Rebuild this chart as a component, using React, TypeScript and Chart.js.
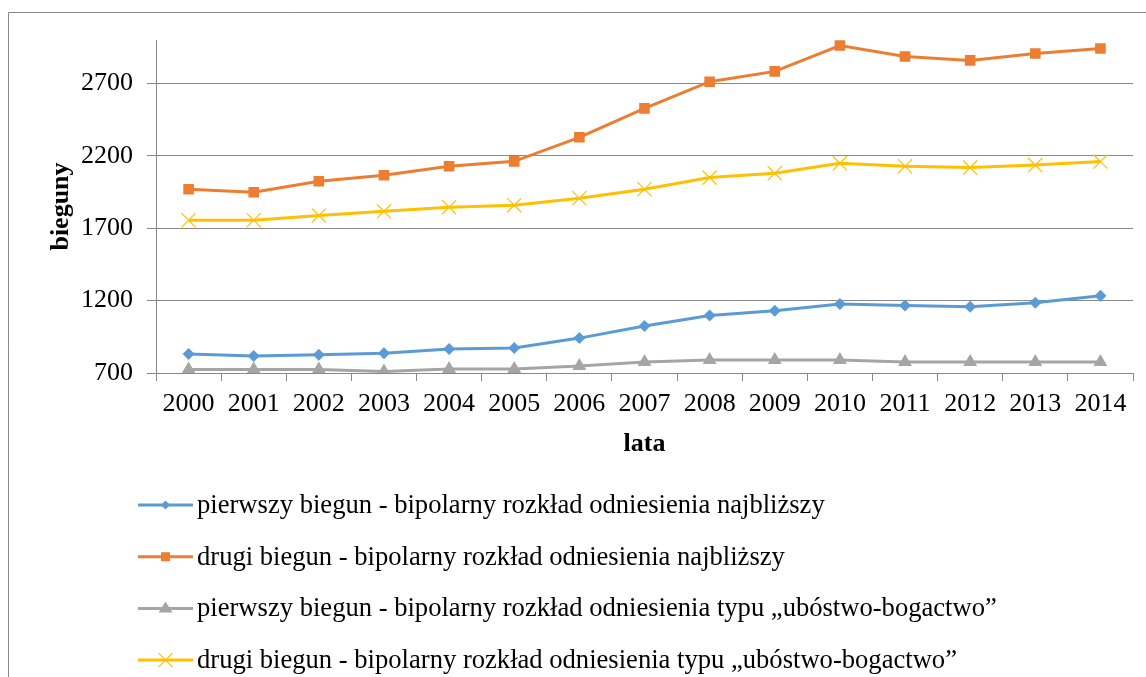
import React, { useEffect, useRef } from "react";
import { Chart, registerables } from "chart.js";

Chart.register(...registerables);

// Lata (oś X)
const years = ["2000", "2001", "2002", "2003", "2004", "2005", "2006", "2007", "2008", "2009", "2010", "2011", "2012", "2013", "2014"];

// Bieguny rozkładów
const firstNearest = [831, 817, 826, 836, 866, 872, 941, 1024, 1097, 1130, 1176, 1167, 1157, 1185, 1233];
const secondNearest = [1969, 1948, 2024, 2066, 2128, 2162, 2328, 2528, 2712, 2783, 2962, 2886, 2859, 2907, 2941];
const firstPoverty = [725, 725, 725, 711, 728, 728, 748, 776, 790, 790, 790, 776, 776, 776, 776];
const secondPoverty = [1755, 1755, 1788, 1817, 1845, 1859, 1907, 1969, 2050, 2079, 2148, 2128, 2119, 2136, 2160];

const yTicks = [700, 1200, 1700, 2200, 2700];

const seriesLabels = [
  "pierwszy biegun - bipolarny rozkład odniesienia najbliższy",
  "drugi biegun - bipolarny rozkład odniesienia najbliższy",
  "pierwszy biegun - bipolarny rozkład odniesienia typu \u201eubóstwo-bogactwo\u201d",
  "drugi biegun - bipolarny rozkład odniesienia typu \u201eubóstwo-bogactwo\u201d",
];

const COLORS = ["#5B9BD5", "#ED7D31", "#A5A5A5", "#FFC000"];
const SERIF = '"Liberation Serif", "Times New Roman", serif';
const AXIS_GRAY = "#898989";

function drawMarker(ctx: CanvasRenderingContext2D, kind: string, x: number, y: number, color: string) {
  ctx.save();
  ctx.fillStyle = color;
  ctx.strokeStyle = color;
  ctx.beginPath();
  if (kind === "diamond") {
    const r = 4.5;
    ctx.moveTo(x, y - r);
    ctx.lineTo(x + r, y);
    ctx.lineTo(x, y + r);
    ctx.lineTo(x - r, y);
    ctx.closePath();
    ctx.fill();
  } else if (kind === "square") {
    const s = 4.5;
    ctx.rect(x - s, y - s, 2 * s, 2 * s);
    ctx.fill();
  } else if (kind === "triangle") {
    const r = 7;
    ctx.moveTo(x, y - r);
    ctx.lineTo(x + r, y + r * 0.6);
    ctx.lineTo(x - r, y + r * 0.6);
    ctx.closePath();
    ctx.fill();
  } else {
    const r = 7;
    ctx.lineWidth = 1.2;
    ctx.moveTo(x - r, y - r);
    ctx.lineTo(x + r, y + r);
    ctx.moveTo(x + r, y - r);
    ctx.lineTo(x - r, y + r);
    ctx.stroke();
  }
  ctx.restore();
}

const legendMarkers = ["diamond", "square", "triangle", "cross"];

const decorPlugin = {
  id: "decor",
  beforeDraw(chart: any) {
    const ctx = chart.ctx as CanvasRenderingContext2D;
    ctx.save();
    ctx.strokeStyle = AXIS_GRAY;
    ctx.lineWidth = 1;
    ctx.beginPath();
    ctx.moveTo(8.5, 677);
    ctx.lineTo(8.5, 12.5);
    ctx.lineTo(1146, 12.5);
    ctx.stroke();
    ctx.restore();
  },
  afterDraw(chart: any) {
    const ctx = chart.ctx as CanvasRenderingContext2D;
    const area = chart.chartArea;
    ctx.save();
    // axis titles
    ctx.fillStyle = "#000";
    ctx.font = `bold 26px ${SERIF}`;
    ctx.textAlign = "center";
    ctx.textBaseline = "alphabetic";
    ctx.fillText("lata", (area.left + area.right) / 2, 451);
    ctx.save();
    ctx.translate(68, (area.top + area.bottom) / 2);
    ctx.rotate(-Math.PI / 2);
    ctx.fillText("bieguny", 0, 0);
    ctx.restore();

    // legend
    const x0 = 138;
    const x1 = 193;
    chart.data.datasets.forEach((ds: any, i: number) => {
      const y = 505 + i * 51.7;
      ctx.strokeStyle = COLORS[i];
      ctx.lineWidth = 3;
      ctx.beginPath();
      ctx.moveTo(x0, y);
      ctx.lineTo(x1, y);
      ctx.stroke();
      drawMarker(ctx, legendMarkers[i], (x0 + x1) / 2, y, COLORS[i]);
      ctx.fillStyle = "#000";
      ctx.font = `26.6px ${SERIF}`;
      ctx.textAlign = "left";
      ctx.textBaseline = "middle";
      ctx.fillText(ds.label, 197, y + 1);
    });
    ctx.restore();
  },
};

export default function App() {
  const canvasRef = useRef<HTMLCanvasElement | null>(null);

  useEffect(() => {
    const canvas = canvasRef.current;
    if (!canvas) return;
    const chart = new Chart(canvas, {
      type: "line",
      data: {
        labels: years,
        datasets: [
          {
            label: seriesLabels[0],
            data: firstNearest,
            borderColor: COLORS[0],
            backgroundColor: COLORS[0],
            borderWidth: 3,
            pointStyle: "rectRot",
            pointRadius: 6,
            pointBorderWidth: 0,
          },
          {
            label: seriesLabels[1],
            data: secondNearest,
            borderColor: COLORS[1],
            backgroundColor: COLORS[1],
            borderWidth: 3,
            pointStyle: "rect",
            pointRadius: 7.5,
            pointBorderWidth: 0,
          },
          {
            label: seriesLabels[2],
            data: firstPoverty,
            borderColor: COLORS[2],
            backgroundColor: COLORS[2],
            borderWidth: 3,
            pointStyle: "triangle",
            pointRadius: 8,
            pointBorderWidth: 0,
          },
          {
            label: seriesLabels[3],
            data: secondPoverty,
            borderColor: COLORS[3],
            backgroundColor: COLORS[3],
            borderWidth: 3,
            pointStyle: "crossRot",
            pointRadius: 10,
            pointBorderWidth: 1.2,
          },
        ],
      },
      options: {
        responsive: false,
        animation: false,
        devicePixelRatio: 1,
        layout: { padding: { left: 0, top: 40, right: 13, bottom: 0 } },
        elements: { line: { tension: 0 } },
        plugins: {
          legend: { display: false },
          tooltip: { enabled: false },
          title: { display: false },
        },
        scales: {
          x: {
            type: "category",
            offset: true,
            grid: {
              offset: true,
              drawOnChartArea: false,
              drawTicks: true,
              tickLength: 8,
              color: AXIS_GRAY,
            },
            border: { display: true, color: AXIS_GRAY },
            ticks: {
              color: "#000",
              font: { family: SERIF, size: 26 },
              padding: 8,
              maxRotation: 0,
              autoSkip: false,
            },
            afterFit(scale: any) {
              scale.height = 677 - 373;
              scale.paddingLeft = 0;
              scale.paddingRight = 0;
            },
          },
          y: {
            min: 700,
            max: 3000,
            afterBuildTicks(scale: any) {
              scale.ticks = yTicks.map((v) => ({ value: v }));
            },
            grid: {
              color: AXIS_GRAY,
              drawTicks: true,
              tickLength: 9,
            },
            border: { display: true, color: AXIS_GRAY },
            ticks: {
              color: "#000",
              font: { family: SERIF, size: 26 },
              padding: 14,
              callback: (value: any) => String(value),
            },
            afterFit(scale: any) {
              scale.width = 156;
              scale.paddingTop = 0;
              scale.paddingBottom = 0;
            },
          },
        },
      },
      plugins: [decorPlugin],
    });
    return () => chart.destroy();
  }, []);

  return (
    <div style={{ position: "fixed", left: 0, top: 0, width: 1146, height: 677, background: "#fff" }}>
      <canvas ref={canvasRef} width={1146} height={677} style={{ width: 1146, height: 677, display: "block" }} />
    </div>
  );
}
